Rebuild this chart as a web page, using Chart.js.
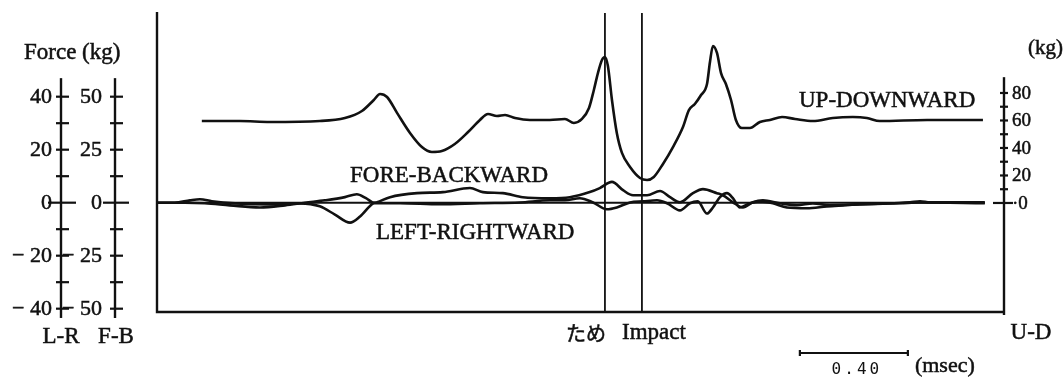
<!DOCTYPE html>
<html>
<head>
<meta charset="utf-8">
<script src="https://cdn.jsdelivr.net/npm/chart.js@4"></script>
<style>
  body { margin: 0; background: #fff; }
</style>
</head>
<body>
<canvas id="chart" width="1064" height="379"></canvas>
<script>
// --- datos (tiempo en s, 0 = impacto; fuerza en kg) ---
const udTime  = [-1.630, -1.489, -1.378, -1.193, -1.100, -1.037, -0.993, -0.970, -0.944, -0.907,
                 -0.859, -0.815, -0.778, -0.741, -0.693, -0.644, -0.600, -0.570, -0.537, -0.507,
                 -0.470, -0.415, -0.341, -0.285, -0.252, -0.222, -0.196, -0.178, -0.163, -0.148,
                 -0.137, -0.126, -0.111, -0.093, -0.074, -0.044, -0.007, 0.019, 0.044, 0.078,
                 0.115, 0.152, 0.174, 0.196, 0.219, 0.241, 0.252, 0.263, 0.278, 0.293,
                 0.311, 0.330, 0.348, 0.370, 0.400, 0.437, 0.474, 0.519, 0.567, 0.633,
                 0.707, 0.781, 0.833, 0.881, 1.056, 1.263];
const udForce = [59.6, 59.6, 58.9, 59.6, 61.8, 66.9, 74.9, 79.3, 77.1, 65.5,
                 50.9, 40.7, 37.1, 37.8, 42.9, 51.6, 60.4, 64.7, 63.3, 64.0,
                 61.8, 60.4, 60.4, 61.1, 58.2, 61.1, 69.1, 82.2, 94.5, 104.0,
                 106.2, 99.6, 74.9, 50.9, 36.4, 26.2, 18.2, 16.7, 18.9, 28.4,
                 40.7, 55.3, 67.6, 72.0, 78.5, 86.5, 102.5, 114.2, 109.1, 94.5,
                 86.5, 74.9, 60.4, 54.5, 54.5, 58.9, 60.4, 62.5, 61.1, 59.6,
                 61.8, 62.5, 61.8, 59.6, 60.4, 60.4];

const fbTime  = [-1.796, -1.730, -1.674, -1.637, -1.593, -1.507, -1.378, -1.267, -1.193, -1.137,
                 -1.081, -1.044, -0.996, -0.981, -0.933, -0.833, -0.737, -0.637, -0.589, -0.515,
                 -0.441, -0.341, -0.267, -0.193, -0.156, -0.111, -0.070, -0.033, 0.019, 0.067,
                 0.104, 0.141, 0.189, 0.226, 0.278, 0.300, 0.337, 0.374, 0.411, 0.448,
                 0.511, 0.574, 0.633, 0.696, 0.807, 0.993, 1.030, 1.067, 1.270];
const fbForce = [0, 0, 1.1, 1.6, 0.7, -0.3, -0.8, -0.3, -1.7, -5.6,
                 -9.4, -6.5, -0.3, 0.2, 2.6, 4.5, 5.0, 6.9, 5.0, 4.5,
                 2.6, 2.1, 2.6, 5.0, 6.9, 9.8, 5.9, 3.5, 3.5, 5.5,
                 2.6, 0.2, 4.5, 6.4, 4.5, 3.5, 0.2, -2.2, 0.2, 1.1,
                 -0.3, -1.2, -0.3, -1.2, -0.8, 0.2, 0.7, 0.2, 0.2];

const lrTime  = [-1.796, -1.693, -1.619, -1.526, -1.415, -1.322, -1.248, -1.174, -1.100, -1.056,
                 -1.022, -0.989, -0.896, -0.748, -0.600, -0.452, -0.341, -0.285, -0.230, -0.181,
                 -0.130, -0.093, -0.044, 0.004, 0.056, 0.093, 0.141, 0.178, 0.207, 0.241,
                 0.263, 0.289, 0.315, 0.337, 0.363, 0.400, 0.437, 0.485, 0.537, 0.611,
                 0.685, 0.744, 0.807, 0.956, 1.030, 1.270];
const lrForce = [0, 0, -0.2, -1.0, -1.8, -1.0, 0, 0.9, 2.1, 3.2,
                 1.7, -0.2, -0.2, -0.6, -0.2, 0.1, 0.9, 0.9, 1.7, 0.1,
                 -2.5, -1.8, 0.1, 0.5, 0.9, -0.2, -2.9, -0.2, 0.5, -4.1,
                 -1.8, 2.1, 3.6, 1.7, -1.8, -0.2, 0.5, -0.2, -1.8, -2.1,
                 -1.4, -1.0, -0.6, -0.2, 0.1, -0.2];

const baseTime = [-1.796, 1.270];

const eventTimes  = [-0.137, 0];
const eventLabels = ['ため', 'Impact'];

const lrTicks = [40, 20, 0, -20, -40];
const fbTicks = [50, 25, 0, -25, -50];
const udTicks = [80, 60, 40, 20, 0];

const scaleBarStart = 0.585;
const scaleBarLength = 0.40;

// --- estilo ---
const INK = '#111111';
const SERIF = '"Liberation Serif", "DejaVu Serif", serif';

function toPoints(ts, vs) {
    return ts.map((t, i) => ({ x: t, y: vs[i] }));
}

function traceSet(label, ts, vs, axis) {
    return {
        label: label,
        data: toPoints(ts, vs),
        yAxisID: axis,
        borderColor: INK,
        borderWidth: 2.6,
        pointRadius: 0,
        cubicInterpolationMode: 'monotone',
        fill: false
    };
}

function minusLabel(v) {
    return v < 0 ? '\u2212 ' + Math.abs(v) : String(v);
}

// texto algo más grueso, como en el original impreso
function inkText(ctx, txt, x, y) {
    ctx.fillText(txt, x, y);
    ctx.lineWidth = 0.5;
    ctx.strokeText(txt, x, y);
}

// eje vertical dibujado con la escala de Chart.js
function drawAxis(ctx, scale, xPos, top, bottom, step, labels, labelX, opts) {
    ctx.lineWidth = 2.4;
    ctx.beginPath();
    ctx.moveTo(xPos, scale.getPixelForValue(top));
    ctx.lineTo(xPos, scale.getPixelForValue(bottom));
    ctx.stroke();
    ctx.lineWidth = 2.2;
    const lo = Math.min(...labels), hi = Math.max(...labels);
    for (let v = lo; v <= hi + 1e-9; v += step) {
        const y = scale.getPixelForValue(v);
        let l = opts.tickL, r = opts.tickR;
        if (Math.abs(v) < 1e-9) { l = opts.zeroL; r = opts.zeroR; }
        ctx.beginPath();
        ctx.moveTo(xPos - l, y);
        ctx.lineTo(xPos + r, y);
        ctx.stroke();
    }
    ctx.font = opts.font;
    ctx.textAlign = opts.align;
    ctx.textBaseline = 'middle';
    labels.forEach(v => {
        const txt = opts.fmt ? opts.fmt(v) : String(v);
        inkText(ctx, txt, labelX, scale.getPixelForValue(v) + 1);
    });
}

const figureDecor = {
    id: 'figureDecor',
    afterDraw(chart) {
        const { ctx, chartArea: a, scales } = chart;
        const x = scales.x;
        ctx.save();
        ctx.strokeStyle = INK;
        ctx.fillStyle = INK;

        // marco izquierdo e inferior
        ctx.lineWidth = 2.4;
        ctx.beginPath();
        ctx.moveTo(a.left, a.top);
        ctx.lineTo(a.left, a.bottom);
        ctx.lineTo(a.right, a.bottom);
        ctx.stroke();

        // líneas verticales de eventos
        ctx.lineWidth = 1.8;
        eventTimes.forEach(t => {
            const px = x.getPixelForValue(t);
            ctx.beginPath();
            ctx.moveTo(px, a.top + 1);
            ctx.lineTo(px, a.bottom);
            ctx.stroke();
        });

        // ejes izquierdos L-R y F-B
        const lrX = a.left - 96, fbX = a.left - 42;
        drawAxis(ctx, scales.yLR, lrX, 47, -43.5, 10, lrTicks, lrX - 9,
            { tickL: 5, tickR: 8, zeroL: 13, zeroR: 15, font: '22px ' + SERIF, align: 'right', fmt: minusLabel });
        drawAxis(ctx, scales.yFB, fbX, 58.75, -54.4, 12.5, fbTicks, fbX - 13,
            { tickL: 5, tickR: 8, zeroL: 12, zeroR: 14, font: '22px ' + SERIF, align: 'right', fmt: minusLabel });

        // eje derecho U-D
        drawAxis(ctx, scales.yUD, a.right, 91.5, -81.5, 10, udTicks, a.right + 8,
            { tickL: 4, tickR: 4, zeroL: 11, zeroR: 9, font: '19px ' + SERIF, align: 'left',
              fmt: v => v === 0 ? '\u00b70' : String(v) });

        // textos
        ctx.font = '23px ' + SERIF;
        ctx.textBaseline = 'middle';
        ctx.textAlign = 'left';
        inkText(ctx, 'Force (kg)', 24, 53);
        ctx.textAlign = 'center';
        inkText(ctx, 'L-R', lrX, 337);
        inkText(ctx, 'F-B', fbX + 1, 337);
        inkText(ctx, 'U-D', a.right + 27, 333);
        ctx.textAlign = 'right';
        ctx.font = '21px ' + SERIF;
        inkText(ctx, '(kg)', 1063, 48);

        // etiquetas de eventos
        const ev0 = x.getPixelForValue(eventTimes[0]);
        const ev1 = x.getPixelForValue(eventTimes[1]);
        ctx.textAlign = 'right';
        ctx.font = '20px "Noto Sans CJK JP", sans-serif';
        inkText(ctx, eventLabels[0], ev0 + 1, 333);
        ctx.textAlign = 'center';
        ctx.font = '23px ' + SERIF;
        inkText(ctx, eventLabels[1], ev1 + 12, 333);

        // rótulos de las curvas
        ctx.textAlign = 'left';
        ctx.textBaseline = 'alphabetic';
        ctx.font = '23px ' + SERIF;
        inkText(ctx, 'UP-DOWNWARD', 799, 107);
        inkText(ctx, 'FORE-BACKWARD', 350, 182);
        inkText(ctx, 'LEFT-RIGHTWARD', 376, 239);

        // barra de escala temporal
        const sb0 = x.getPixelForValue(scaleBarStart);
        const sb1 = x.getPixelForValue(scaleBarStart + scaleBarLength);
        ctx.lineWidth = 2.2;
        ctx.beginPath();
        ctx.moveTo(sb0, 353); ctx.lineTo(sb1, 353);
        ctx.moveTo(sb0, 350); ctx.lineTo(sb0, 356);
        ctx.moveTo(sb1, 350); ctx.lineTo(sb1, 356);
        ctx.stroke();
        ctx.textBaseline = 'middle';
        ctx.textAlign = 'center';
        ctx.font = '16px "DejaVu Sans Mono", monospace';
        ctx.letterSpacing = '3px';
        ctx.fillText(scaleBarLength.toFixed(2), (sb0 + sb1) / 2 + 3, 370);
        ctx.letterSpacing = '0px';
        ctx.textAlign = 'left';
        ctx.font = '22px ' + SERIF;
        inkText(ctx, '(msec)', sb1 + 7, 366);

        ctx.restore();
    }
};

const chart = new Chart(document.getElementById('chart').getContext('2d'), {
    type: 'line',
    data: {
        datasets: [
            traceSet('UP-DOWNWARD', udTime, udForce, 'yUD'),
            traceSet('FORE-BACKWARD', fbTime, fbForce, 'yFB'),
            traceSet('LEFT-RIGHTWARD', lrTime, lrForce, 'yLR'),
            Object.assign(traceSet('base', baseTime, [0, 0], 'yLR'), { borderWidth: 2 })
        ]
    },
    options: {
        responsive: false,
        animation: false,
        layout: { padding: { left: 157, right: 60, top: 12, bottom: 67 } },
        plugins: { legend: { display: false }, tooltip: { enabled: false } },
        scales: {
            x:   { type: 'linear', display: false, min: -1.796, max: 1.341 },
            yLR: { type: 'linear', display: false, min: -41.25, max: 71.96 },
            yFB: { type: 'linear', display: false, min: -51.56, max: 89.95 },
            yUD: { type: 'linear', display: false, min: -79.3, max: 138.9 }
        }
    },
    plugins: [figureDecor]
});
</script>
</body>
</html>
